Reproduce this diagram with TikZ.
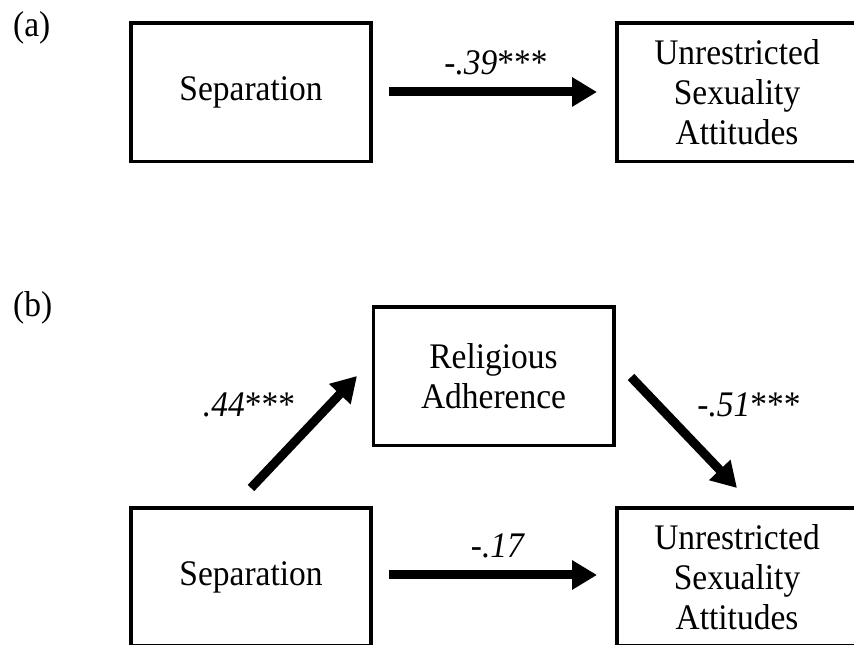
\documentclass[tikz,border=0pt]{standalone}
\usepackage{fontspec}
\setmainfont{Liberation Serif}[FakeStretch=0.93]
\usetikzlibrary{arrows.meta}
\begin{document}
\begin{tikzpicture}[x=1pt,y=1pt,
  box/.style={draw=black, line width=3.8pt, minimum width=240.2pt, minimum height=138.2pt,
    inner sep=0pt, outer sep=0pt, align=center, font=\fontsize{36pt}{40pt}\selectfont},
  path/.style={line width=9pt, -{Triangle[length=25pt,width=28pt]}},
  coef/.style={anchor=base, inner sep=0pt, font=\fontsize{36pt}{40pt}\selectfont},
  panel/.style={anchor=base west, inner sep=0pt, font=\fontsize{36pt}{40pt}\selectfont}]
\useasboundingbox (0,0) rectangle (854,645);
\fill[white] (0,0) rectangle (854,645);
% panel (a)
\node[panel] (la) at (13,608) {(a)};
\node[box] (sepA) at (251,552.5) {Separation};
\node[box] (unrA) at (737,552.5) {Unrestricted\\Sexuality\\Attitudes};
\draw[path] ([xshift=17.9pt,yshift=0.5pt]sepA.east) -- ([xshift=-19.9pt,yshift=0.5pt]unrA.west);
\node[coef] (ca) at (496,570) {\textit{-.39}***};
% panel (b)
\node[panel] (lb) at (13,328) {(b)};
\node[box] (ra) at (493.5,268.5) {Religious\\Adherence};
\node[box] (sepB) at (251,68) {Separation};
\node[box] (unrB) at (737,68) {Unrestricted\\Sexuality\\Attitudes};
\draw[path] ([shift={(0,19.9)}]sepB.north) -- ([shift={(-16.4,0.5)}]ra.west);
\draw[path] ([shift={(17.4,-0.5)}]ra.east) -- ([shift={(0,19.9)}]unrB.north);
\draw[path] ([xshift=17.9pt,yshift=2pt]sepB.east) -- ([xshift=-19.9pt,yshift=2pt]unrB.west);
\node[coef] (c1) at (249,228) {\textit{.44}***};
\node[coef] (c2) at (749,228) {\textit{-.51}***};
\node[coef] (c3) at (498,87) {\textit{-.17}};
\end{tikzpicture}
\end{document}
